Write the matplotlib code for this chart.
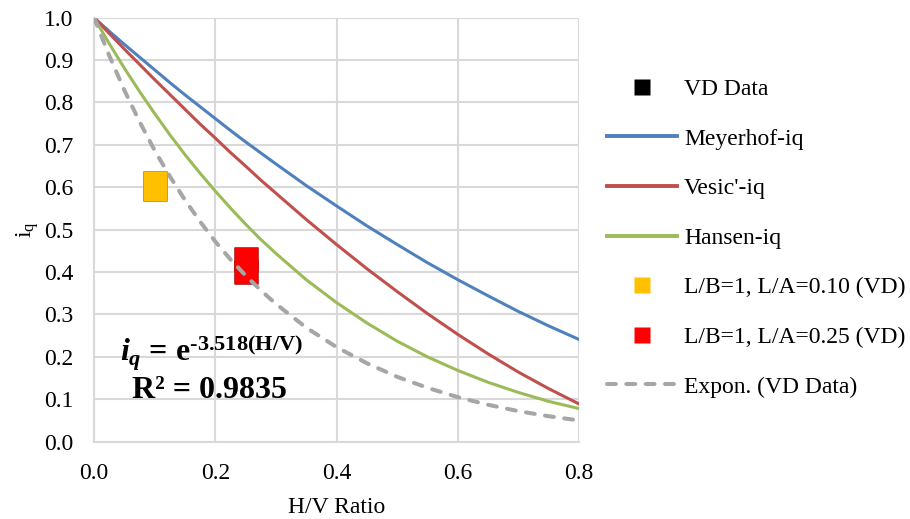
import matplotlib
matplotlib.use("Agg")
import matplotlib.pyplot as plt
from matplotlib.lines import Line2D
from matplotlib.ticker import FormatStrFormatter

plt.rcParams["font.family"] = ["Liberation Serif", "DejaVu Serif"]
plt.rcParams["mathtext.fontset"] = "custom"
plt.rcParams["mathtext.rm"] = "Liberation Serif:bold"
plt.rcParams["mathtext.it"] = "Liberation Serif:bold:italic"
plt.rcParams["mathtext.bf"] = "Liberation Serif:bold"
plt.rcParams["mathtext.sf"] = "Liberation Serif"

# H/V ratio sampling points for the theoretical curves (denser where curvature is high)
hv = [0.000, 0.025, 0.050, 0.075, 0.100, 0.125, 0.150, 0.175, 0.200, 0.225,
      0.250, 0.275, 0.300, 0.350, 0.400, 0.450, 0.500, 0.550, 0.600, 0.650,
      0.700, 0.750, 0.800]

meyerhof_iq = [1.000, 0.968, 0.937, 0.907, 0.877, 0.847, 0.818, 0.790, 0.762, 0.734,
               0.707, 0.681, 0.655, 0.604, 0.556, 0.509, 0.465, 0.422, 0.382, 0.344,
               0.307, 0.273, 0.241]
vesic_iq = [1.000, 0.963, 0.926, 0.890, 0.854, 0.819, 0.784, 0.749, 0.716, 0.682,
            0.650, 0.617, 0.586, 0.524, 0.465, 0.408, 0.354, 0.302, 0.253, 0.207,
            0.164, 0.125, 0.089]
hansen_iq = [1.000, 0.939, 0.881, 0.826, 0.774, 0.724, 0.677, 0.633, 0.591, 0.551,
             0.513, 0.477, 0.444, 0.382, 0.328, 0.280, 0.237, 0.200, 0.168, 0.140,
             0.116, 0.095, 0.078]
expon_vd = [1.000, 0.911, 0.829, 0.755, 0.687, 0.626, 0.570, 0.519, 0.472, 0.430,
            0.392, 0.357, 0.325, 0.269, 0.223, 0.185, 0.153, 0.127, 0.105, 0.087,
            0.072, 0.060, 0.050]

# Measured VD data
la010_x = [0.10, 0.10]
la010_y = [0.610, 0.597]
la025_x = [0.25, 0.25]
la025_y = [0.430, 0.400]
vd_x = la010_x + la025_x
vd_y = la010_y + la025_y

c_blue = "#4F81BD"
c_red = "#C0504D"
c_green = "#9BBB59"
c_gray = "#A6A6A6"
c_yellow = "#FFC000"
c_rd = "#FF0000"
c_grid = "#D9D9D9"

fig = plt.figure(figsize=(9.10, 5.19), dpi=100)
ax = fig.add_axes([0.1033, 0.149, 0.5330, 0.817])

ax.plot(hv, meyerhof_iq, color=c_blue, lw=2.2, zorder=3)
ax.plot(hv, vesic_iq, color=c_red, lw=2.2, zorder=3)
ax.plot(hv, hansen_iq, color=c_green, lw=2.2, zorder=3)
ax.plot(vd_x, vd_y, ls="none", marker="s", ms=17, color="black", mec="none", zorder=4)
ax.plot(la010_x, la010_y, ls="none", marker="s", ms=17, color=c_yellow, mec="none", zorder=5)
ax.plot(la025_x, la025_y, ls="none", marker="s", ms=17, color=c_rd, mec="none", zorder=5)
ax.plot(hv, expon_vd, color=c_gray, lw=2.9, ls=(0, (2.2, 2.6)),
        dash_capstyle="round", zorder=6)

ax.set_xlim(0, 0.8)
ax.set_ylim(0, 1.0)
ax.set_xticks([0.0, 0.2, 0.4, 0.6, 0.8])
ax.set_yticks([i / 10 for i in range(11)])
ax.xaxis.set_major_formatter(FormatStrFormatter("%.1f"))
ax.yaxis.set_major_formatter(FormatStrFormatter("%.1f"))
ax.tick_params(axis="both", length=0, labelsize=17)
ax.tick_params(axis="x", pad=15)
ax.tick_params(axis="y", pad=15)
ax.grid(True, color=c_grid, lw=1.5, zorder=0)
ax.set_axisbelow(True)
for side in ("top", "right"):
    ax.spines[side].set_visible(False)
for side in ("left", "bottom"):
    ax.spines[side].set_color(c_grid)
    ax.spines[side].set_linewidth(1.5)

ax.set_xlabel("H/V Ratio", fontsize=17, labelpad=10)
ax.set_ylabel(r"$\mathsf{i_q}$", fontsize=17, labelpad=2)

# Trendline equation
ax.text(0.043, 0.19, r"$i_q$ = $\mathrm{e}^{\mathrm{‐3.518(H/V)}}$", fontsize=23,
        ha="left", va="baseline", fontweight="bold", zorder=7)
ax.text(0.191, 0.12, "R² = 0.9835", fontsize=23, ha="center", va="center",
        fontweight="bold", zorder=7)

handles = [
    Line2D([], [], ls="none", marker="s", ms=11, color="black", mec="none"),
    Line2D([], [], color=c_blue, lw=2.8),
    Line2D([], [], color=c_red, lw=2.8),
    Line2D([], [], color=c_green, lw=2.8),
    Line2D([], [], ls="none", marker="s", ms=11, color=c_yellow, mec="none"),
    Line2D([], [], ls="none", marker="s", ms=11, color=c_rd, mec="none"),
    Line2D([], [], color=c_gray, lw=2.9, ls=(0, (2.2, 2.6)), dash_capstyle="round"),
]
labels = ["VD Data", "Meyerhof-iq", "Vesic'-iq", "Hansen-iq",
          "L/B=1, L/A=0.10 (VD)", "L/B=1, L/A=0.25 (VD)", "Expon. (VD Data)"]
fig.legend(handles, labels, loc="upper left", bbox_to_anchor=(0.667, 0.849),
           frameon=False, fontsize=17, handlelength=2.97, handletextpad=0.3,
           labelspacing=1.19, borderaxespad=0, borderpad=0)

fig.savefig("out.png", dpi=100)
